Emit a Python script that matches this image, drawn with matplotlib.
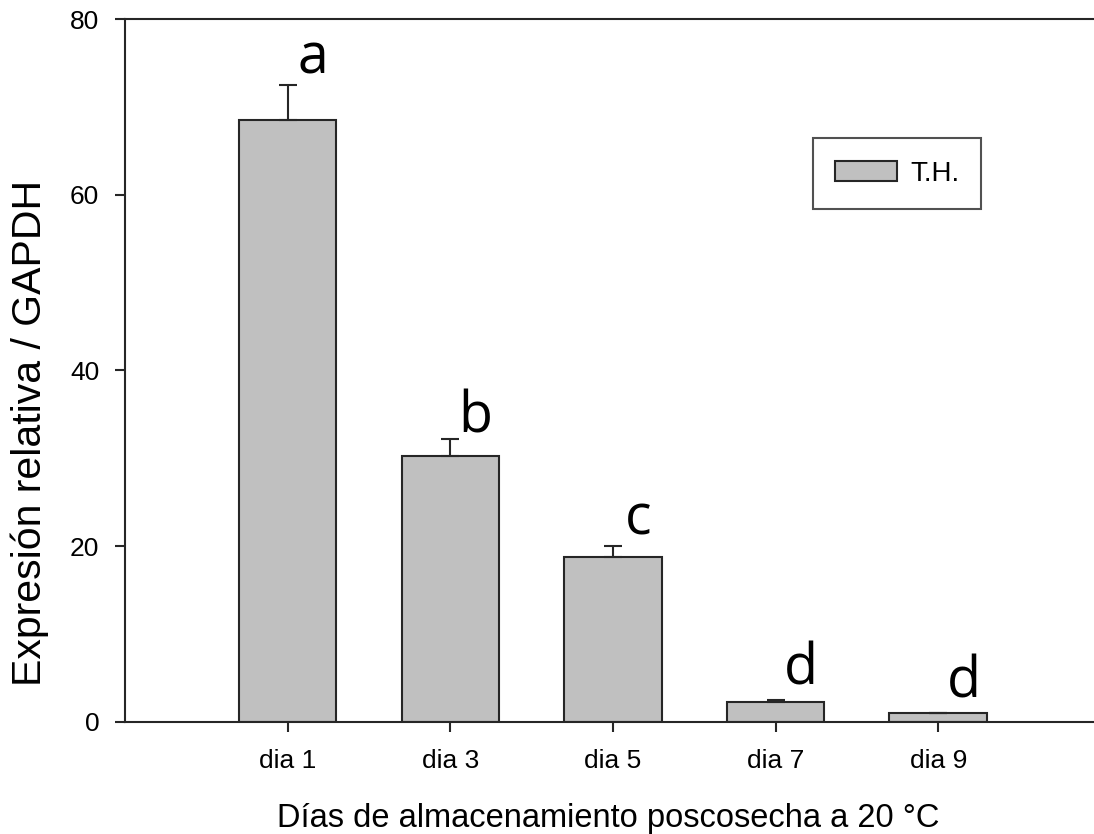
import matplotlib
matplotlib.use("Agg")
import matplotlib.pyplot as plt
import numpy as np

# ---- data ----
categories = ["dia 1", "dia 3", "dia 5", "dia 7", "dia 9"]
values = [68.5, 30.3, 18.8, 2.25, 0.95]
errors = [3.95, 1.85, 1.15, 0.2, 0.05]
letters = ["a", "b", "c", "d", "d"]
letter_y = [73.8, 32.9, 21.3, 4.2, 2.8]
yticks = [0, 20, 40, 60, 80]
series_label = "T.H."
xlabel = "Días de almacenamiento poscosecha a 20 °C"
ylabel = "Expresión relativa / GAPDH"

plt.rcParams['font.family'] = ['Liberation Sans', 'DejaVu Sans']

fig = plt.figure(figsize=(10.94, 8.34), dpi=100)
ax = fig.add_axes([125 / 1094, (834 - 721.7) / 834, 975.9 / 1094, 702.7 / 834])

x = np.arange(1, len(categories) + 1)
lw = 1.5
edge = "#262626"
bars = ax.bar(x, values, width=0.6, color="#c0c0c0", edgecolor=edge,
              linewidth=lw, label=series_label, zorder=2)
ax.errorbar(x, values, yerr=[np.zeros(len(values)), errors], fmt="none",
            ecolor=edge, elinewidth=lw, capsize=6.8, capthick=lw, zorder=3)

for xi, lt, ly in zip(x, letters, letter_y):
    ax.text(xi + 0.155, ly, lt, fontsize=40, family=['Open Sans', 'DejaVu Sans'],
            ha="center", va="baseline", color="black")

ax.set_xlim(0, 6)
ax.set_ylim(0, 80)
ax.set_xticks(x)
ax.set_xticklabels(categories)
ax.set_yticks(yticks)

for s in ["left", "bottom", "top"]:
    ax.spines[s].set_linewidth(lw)
    ax.spines[s].set_color(edge)
ax.spines["right"].set_visible(False)

ax.tick_params(axis="both", direction="out", length=7.5, width=lw, color=edge,
               labelsize=19)
ax.tick_params(axis="x", pad=12)
ax.tick_params(axis="y", pad=11)

xl = ax.set_xlabel(xlabel, fontsize=23.5)
ax.xaxis.set_label_coords((608 - 125) / 975.9, (721.7 - 827) / 702.7)
xl.set_va("baseline")

yl = ax.set_ylabel(ylabel, fontsize=29.5)
ax.yaxis.set_label_coords((49 - 125) / 975.9, (721.7 - 433) / 702.7)

leg = ax.legend(loc="upper left", bbox_to_anchor=(0.7047, 0.830), borderaxespad=0,
                fontsize=20, frameon=True, fancybox=False, handlelength=2.25,
                handleheight=0.72, handletextpad=0.45, borderpad=0.8)
leg.get_frame().set_edgecolor(edge)
leg.get_frame().set_linewidth(lw)

fig.savefig("out.png", dpi=100)
